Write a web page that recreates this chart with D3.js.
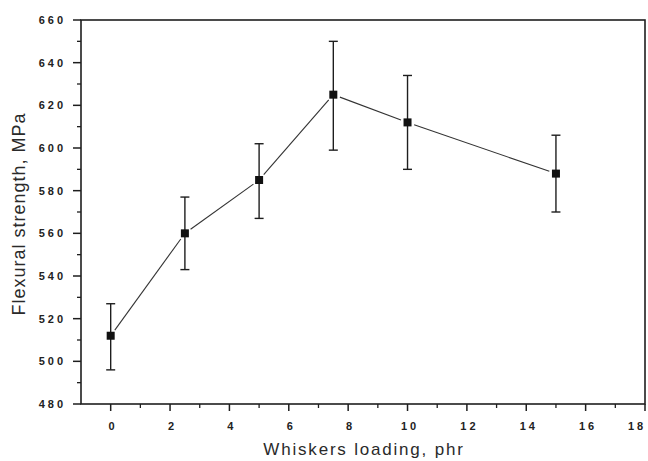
<!DOCTYPE html>
<html>
<head>
    <meta charset="utf-8">
    <title>Flexural strength vs whiskers loading</title>
    <script src="https://d3js.org/d3.v7.min.js"></script>
    <style>
        body { margin: 0; background: #fff; }
        .tick-label {
            font-family: "Liberation Sans", Arial, sans-serif;
            font-size: 11px;
            font-weight: bold;
            letter-spacing: 3px;
            fill: #222;
        }
        .axis-title {
            font-family: "Liberation Sans", Arial, sans-serif;
            font-size: 18px;
            letter-spacing: 1px;
            fill: #2a2a2a;
        }
    </style>
</head>
<body>
    <div id="chart"></div>
    <script>
        const width = 648;
        const height = 461;

        // data
        const loading = [0, 2.5, 5, 7.5, 10, 15];
        const strength = [512, 560, 585, 625, 612, 588];
        const errLow = [496, 543, 567, 599, 590, 570];
        const errHigh = [527, 577, 602, 650, 634, 606];

        const xTicks = [0, 2, 4, 6, 8, 10, 12, 14, 16, 18];
        const yTicks = [480, 500, 520, 540, 560, 580, 600, 620, 640, 660];

        const margin = {left: 81, top: 20, right: 3, bottom: 57};

        const x = d3.scaleLinear()
            .domain([-1, 18])
            .range([margin.left, width - margin.right]);
        const y = d3.scaleLinear()
            .domain([480, 660])
            .range([height - margin.bottom, margin.top]);

        const svg = d3.select("#chart")
            .append("svg")
            .attr("width", width)
            .attr("height", height);

        const ink = "#1e1e1e";
        const ls = 3; // letter spacing of tick labels

        // 外框
        svg.append("rect")
            .attr("x", x(-1))
            .attr("y", y(660))
            .attr("width", x(18) - x(-1))
            .attr("height", y(480) - y(660))
            .attr("fill", "none")
            .attr("stroke", ink)
            .attr("stroke-width", 1.6);

        // x ticks (major + minor)
        const xMinor = d3.range(1, 18, 2);
        svg.selectAll(".xmaj")
            .data(xTicks)
            .join("line")
            .attr("x1", d => x(d)).attr("x2", d => x(d))
            .attr("y1", y(480)).attr("y2", y(480) + 7)
            .attr("stroke", ink).attr("stroke-width", 1.5);
        svg.selectAll(".xmin")
            .data(xMinor)
            .join("line")
            .attr("x1", d => x(d)).attr("x2", d => x(d))
            .attr("y1", y(480)).attr("y2", y(480) + 4)
            .attr("stroke", ink).attr("stroke-width", 1.3);
        // the last label sits at the page edge; keep it inside
        svg.selectAll(".xlab")
            .data(xTicks)
            .join("text")
            .attr("class", "tick-label")
            .attr("x", d => Math.min(x(d) + ls / 2 + 1, width - 11))
            .attr("y", y(480) + 26)
            .attr("text-anchor", "middle")
            .text(d => d);

        // y ticks
        const yMinor = d3.range(490, 660, 20);
        svg.selectAll(".ymaj")
            .data(yTicks)
            .join("line")
            .attr("x1", x(-1) - 8).attr("x2", x(-1))
            .attr("y1", d => y(d)).attr("y2", d => y(d))
            .attr("stroke", ink).attr("stroke-width", 1.5);
        svg.selectAll(".ymin")
            .data(yMinor)
            .join("line")
            .attr("x1", x(-1) - 4).attr("x2", x(-1))
            .attr("y1", d => y(d)).attr("y2", d => y(d))
            .attr("stroke", ink).attr("stroke-width", 1.3);
        svg.selectAll(".ylab")
            .data(yTicks)
            .join("text")
            .attr("class", "tick-label")
            .attr("x", x(-1) - 18 + ls)
            .attr("y", d => y(d))
            .attr("dy", "0.36em")
            .attr("text-anchor", "end")
            .text(d => d);

        // 轴标题
        svg.append("text")
            .attr("class", "axis-title")
            .attr("transform", `translate(25,${(y(480) + y(660)) / 2 + 2}) rotate(-90)`)
            .attr("text-anchor", "middle")
            .text("Flexural strength, MPa");
        svg.append("text")
            .attr("class", "axis-title")
            .attr("x", (x(-1) + x(18)) / 2 + 1)
            .attr("y", 455)
            .attr("text-anchor", "middle")
            .style("font-size", "17px")
            .style("letter-spacing", "1.8px")
            .text("Whiskers loading, phr");

        const pts = loading.map((d, i) => ({
            px: x(d), py: y(strength[i]), lo: y(errLow[i]), hi: y(errHigh[i])
        }));

        // connecting line, stopping short of the markers
        const gap = 7;
        for (let i = 0; i < pts.length - 1; i++) {
            const a = pts[i], b = pts[i + 1];
            const dx = b.px - a.px, dy = b.py - a.py;
            const len = Math.hypot(dx, dy);
            const ux = dx / len, uy = dy / len;
            svg.append("line")
                .attr("x1", a.px + ux * gap).attr("y1", a.py + uy * gap)
                .attr("x2", b.px - ux * gap).attr("y2", b.py - uy * gap)
                .attr("stroke", "#333")
                .attr("stroke-width", 1.1);
        }

        // error bars
        const cap = 4.5;
        const eb = svg.selectAll(".eb").data(pts).join("g");
        eb.append("line")
            .attr("x1", d => d.px).attr("x2", d => d.px)
            .attr("y1", d => d.lo).attr("y2", d => d.hi)
            .attr("stroke", ink).attr("stroke-width", 1.4);
        eb.append("line")
            .attr("x1", d => d.px - cap).attr("x2", d => d.px + cap)
            .attr("y1", d => d.lo).attr("y2", d => d.lo)
            .attr("stroke", ink).attr("stroke-width", 1.4);
        eb.append("line")
            .attr("x1", d => d.px - cap).attr("x2", d => d.px + cap)
            .attr("y1", d => d.hi).attr("y2", d => d.hi)
            .attr("stroke", ink).attr("stroke-width", 1.4);

        // 方块标记
        svg.selectAll(".mk")
            .data(pts)
            .join("rect")
            .attr("x", d => d.px - 4)
            .attr("y", d => d.py - 4)
            .attr("width", 8)
            .attr("height", 8)
            .attr("fill", "#111");
    </script>
</body>
</html>
